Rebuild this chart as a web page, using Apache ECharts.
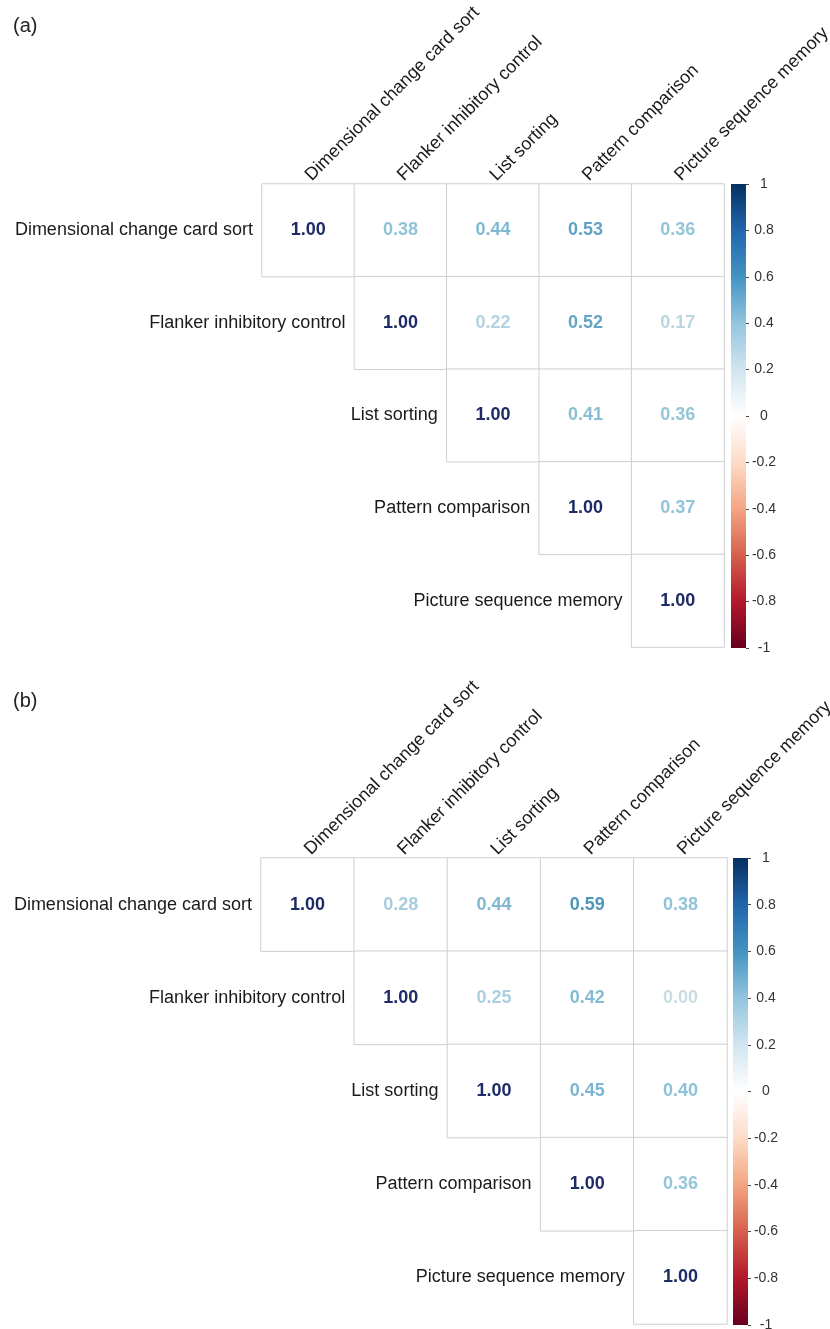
<!DOCTYPE html>
<html>
<head>
<meta charset="utf-8">
<script src="https://cdn.jsdelivr.net/npm/echarts@6/dist/echarts.min.js"></script>
<style>
  html, body { margin: 0; padding: 0; background: #fff; }
  #chart { width: 830px; height: 1329px; }
</style>
</head>
<body>
<div id="chart"></div>
<script>
const measures = ['Dimensional change card sort', 'Flanker inhibitory control', 'List sorting', 'Pattern comparison', 'Picture sequence memory'];
// upper triangle only, each row starts at the diagonal
const corrA = [
  [1.00, 0.38, 0.44, 0.53, 0.36],
  [1.00, 0.22, 0.52, 0.17],
  [1.00, 0.41, 0.36],
  [1.00, 0.37],
  [1.00]
];
const corrB = [
  [1.00, 0.28, 0.44, 0.59, 0.38],
  [1.00, 0.25, 0.42, 0.00],
  [1.00, 0.45, 0.40],
  [1.00, 0.36],
  [1.00]
];
const colorbarRange = [-1, 1];
const panelTitles = ['(a)', '(b)'];

// RdBu from -1 to 1 (step 0.2)
const rdbu = ['#67001F', '#B2182B', '#D6604D', '#F4A582', '#FDDBC7', '#FFFFFF', '#D1E5F0', '#92C5DE', '#4393C3', '#2166AC', '#053061'];
// number colours for positive r, 0 -> 1 (step 0.2), a bit greyer so 0.00 still shows
const textPal = ['#c9dce3', '#b7d5e1', '#8cc1d7', '#4a93b9', '#2a62a0', '#1d2b66'];

const font = 'Liberation Sans, Arial, Helvetica, sans-serif';

function hex2rgb(h) { return [1, 3, 5].map(i => parseInt(h.substr(i, 2), 16)) }
function lerpColor(pal, t) {
  const p = Math.max(0, Math.min(1, t)) * (pal.length - 1)
  const i = Math.min(Math.floor(p), pal.length - 2)
  const f = p - i
  const a = hex2rgb(pal[i]), b = hex2rgb(pal[i + 1])
  return 'rgb(' + a.map((c, k) => Math.round(c + (b[k] - c) * f)).join(',') + ')'
}
function textColor(v) {
  if (v >= 0) return lerpColor(textPal, v)
  return lerpColor(rdbu, (v + 1) / 2)
}

const layout = [
  { left: 262, top: 184, w: 462, h: 463, barLeft: 731, titleTop: 11 },
  { left: 261, top: 858, w: 466, h: 466, barLeft: 733, titleTop: 686 }
];

const grid = [], xAxis = [], yAxis = [], series = [], title = [];

[corrA, corrB].forEach((corr, p) => {
  const L = layout[p]
  const gi = p * 2
  const cellW = L.w / measures.length

  title.push({
    text: panelTitles[p], left: 8, top: L.titleTop,
    textStyle: { fontFamily: font, fontSize: 20, fontWeight: 'normal', color: '#222' }
  })

  // matrix grid
  grid.push({ left: L.left, top: L.top, width: L.w, height: L.h, outerBoundsMode: 'none' })
  xAxis.push({
    gridIndex: gi, type: 'category', data: measures, position: 'top',
    axisLine: { show: false }, axisTick: { show: false }, splitLine: { show: false },
    axisLabel: { interval: 0, rotate: -45, margin: 6, fontSize: 18, fontFamily: font, color: '#1a1a1a' }
  })
  yAxis.push({
    gridIndex: gi, type: 'category', data: measures, inverse: true,
    axisLine: { show: false }, axisTick: { show: false }, axisLabel: { show: false }, splitLine: { show: false }
  })

  // colorbar grid
  grid.push({ left: L.barLeft, top: L.top, width: 15, height: L.h + 1, outerBoundsMode: 'none' })
  xAxis.push({ gridIndex: gi + 1, type: 'category', data: ['r'], show: false })
  yAxis.push({
    gridIndex: gi + 1, type: 'value', min: colorbarRange[0], max: colorbarRange[1], interval: 0.2, position: 'right',
    axisLine: { show: false }, splitLine: { show: false },
    axisTick: { show: true, length: 3, lineStyle: { color: '#444' } },
    axisLabel: {
      margin: 18, align: 'center', fontSize: 14, fontFamily: font, color: '#333',
      formatter: v => String(+v.toFixed(1))
    }
  })

  const cells = []
  corr.forEach((row, i) => {
    row.forEach((v, k) => {
      cells.push({ value: [i + k, i, v], label: { color: textColor(v) } })
    })
  })

  series.push({
    type: 'heatmap', xAxisIndex: gi, yAxisIndex: gi, data: cells,
    itemStyle: { color: '#fff', borderColor: '#cfcfcf', borderWidth: 1 },
    label: {
      show: true, fontSize: 18, fontWeight: 'bold', fontFamily: font,
      formatter: prm => prm.value[2].toFixed(2)
    },
    emphasis: { disabled: true }, silent: true
  })

  // row names sit just left of each diagonal cell
  series.push({
    type: 'scatter', xAxisIndex: gi, yAxisIndex: gi, symbolSize: 0, silent: true,
    itemStyle: { opacity: 1 },
    data: measures.map((m, i) => [i, i]),
    label: {
      show: true, position: 'left', distance: cellW / 2 + 9, opacity: 1,
      fontSize: 18, fontFamily: font, color: '#1a1a1a',
      formatter: prm => measures[prm.dataIndex]
    }
  })

  // colour bar
  series.push({
    type: 'custom', xAxisIndex: gi + 1, yAxisIndex: gi + 1, silent: true,
    data: [[0, colorbarRange[0], colorbarRange[1]]],
    renderItem: function (params, api) {
      const top = api.coord([api.value(0), api.value(2)])
      const bot = api.coord([api.value(0), api.value(1)])
      const w = api.size([1, 0])[0]
      const stops = rdbu.slice().reverse().map((c, k) => ({ offset: k / (rdbu.length - 1), color: c }))
      return {
        type: 'rect',
        shape: { x: top[0] - w / 2, y: top[1], width: w, height: bot[1] - top[1] },
        style: { fill: new echarts.graphic.LinearGradient(0, 0, 0, 1, stops) }
      }
    }
  })
})

const myChart = echarts.init(document.getElementById('chart'), null, { renderer: 'canvas' })
myChart.setOption({
  backgroundColor: '#fff',
  animation: false,
  title: title,
  grid: grid,
  xAxis: xAxis,
  yAxis: yAxis,
  series: series
})
</script>
</body>
</html>
